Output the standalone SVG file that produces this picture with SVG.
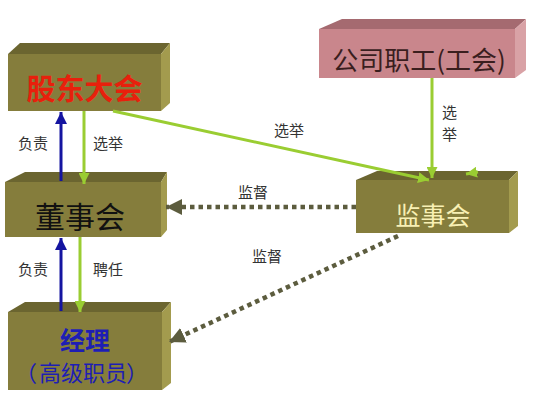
<svg xmlns="http://www.w3.org/2000/svg" width="536" height="402" viewBox="0 0 536 402">
<defs>
<style>
text{font-family:"Noto Sans CJK SC","Noto Sans",sans-serif;}
.front{fill:#857D3C;}
.top{fill:#6B6530;}
.side{fill:#A39B4E;}
.pfront{fill:#C9868C;}
.ptop{fill:#A56A70;}
.pside{fill:#D9A2A6;}
.lbl{font-size:15px;fill:#333;}
.blue{stroke:#1414A0;stroke-width:3;fill:none;}
.green{stroke:#9ACD32;stroke-width:3;fill:none;}
.dot{stroke:#5C5C3E;stroke-width:4.5;stroke-dasharray:4.5 4;fill:none;}
</style>
<marker id="ab" markerUnits="userSpaceOnUse" markerWidth="12" markerHeight="12" refX="10" refY="5" orient="auto" viewBox="0 0 10 10"><path d="M0,0 L10,5 L0,10 z" fill="#1414A0"/></marker>
<marker id="ag" markerUnits="userSpaceOnUse" markerWidth="11" markerHeight="11" refX="10" refY="5" orient="auto" viewBox="0 0 10 10"><path d="M0,0 L10,5 L0,10 z" fill="#9ACD32"/></marker>
<marker id="ad" markerUnits="userSpaceOnUse" markerWidth="16" markerHeight="16" refX="10" refY="5" orient="auto" viewBox="0 0 10 10"><path d="M0,0 L10,5 L0,10 z" fill="#5C5C3E"/></marker>
</defs>
<rect width="536" height="402" fill="#fff"/>

<g id="node-gudong">
<polygon class="top" points="8,54 20,43 170,43 161,54"/>
<polygon class="side" points="161,54 170,43 170,103 161,111"/>
<rect class="front" x="8" y="54" width="153" height="57"/>
<text x="84.5" y="100" font-size="29" font-weight="bold" fill="#E8200C" text-anchor="middle">股东大会</text>
</g>

<g id="node-dongshi">
<polygon class="top" points="5,182 25,172 167,172 161,182"/>
<polygon class="side" points="161,182 167,172 167,230 161,237"/>
<rect class="front" x="5" y="182" width="156" height="55"/>
<text x="80" y="228" font-size="30" fill="#111" text-anchor="middle">董事会</text>
</g>

<g id="node-jingli">
<polygon class="top" points="8,312 25,302 171,302 162,312"/>
<polygon class="side" points="162,312 171,302 171,383 162,390"/>
<rect class="front" x="8" y="312" width="154" height="78"/>
<text x="85" y="350" font-size="25" font-weight="bold" fill="#1E1EB4" text-anchor="middle">经理</text>
<text y="381" font-size="22" fill="#1E1EB4" style="font-family:'Noto Sans CJK JP','Noto Sans CJK SC',sans-serif"><tspan x="15">（</tspan><tspan x="39">高级职员</tspan><tspan x="126">）</tspan></text>
</g>

<g id="node-zhigong">
<polygon class="ptop" points="319,29 342,19 526,19 515,29"/>
<polygon class="pside" points="515,29 526,19 526,70 515,78"/>
<rect class="pfront" x="319" y="29" width="196" height="49"/>
<text x="419" y="70" font-size="26" fill="#3A1E1E" text-anchor="middle">公司职工(工会)</text>
</g>

<g id="node-jianshi">
<polygon class="top" points="356,180 377,171 518,171 509,180"/>
<polygon class="side" points="509,180 518,171 518,226 509,233"/>
<rect class="front" x="356" y="180" width="153" height="53"/>
<text x="433" y="225" font-size="25" fill="#F8F0B4" text-anchor="middle">监事会</text>
</g>

<g id="connectors">
<line class="blue" x1="61" y1="181" x2="61" y2="112" marker-end="url(#ab)"/>
<line class="green" x1="84" y1="111" x2="84" y2="184" marker-end="url(#ag)"/>
<line class="blue" x1="61" y1="311" x2="61" y2="238" marker-end="url(#ab)"/>
<line class="green" x1="80" y1="237" x2="80" y2="312" marker-end="url(#ag)"/>
<line class="green" x1="113" y1="111" x2="429" y2="180" marker-end="url(#ag)"/>
<line class="green" x1="432" y1="78" x2="432" y2="178" marker-end="url(#ag)"/>
<line class="green" x1="478" y1="172" x2="466" y2="174" marker-end="url(#ag)"/>
<line class="dot" x1="356" y1="207" x2="166" y2="207" marker-end="url(#ad)"/>
<line class="dot" x1="398" y1="236" x2="169" y2="342" marker-end="url(#ad)"/>
<text class="lbl" x="18" y="149">负责</text>
<text class="lbl" x="93" y="149">选举</text>
<text class="lbl" x="18" y="275">负责</text>
<text class="lbl" x="93" y="275">聘任</text>
<text class="lbl" x="274" y="136">选举</text>
<text class="lbl" x="442" y="118">选</text>
<text class="lbl" x="442" y="140">举</text>
<text class="lbl" x="238" y="198">监督</text>
<text class="lbl" x="252" y="262">监督</text>
</g>
</svg>
